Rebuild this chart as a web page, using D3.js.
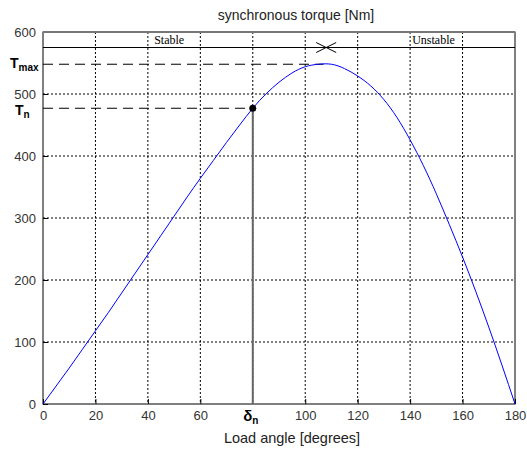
<!DOCTYPE html>
<html>
<head>
<meta charset="utf-8">
<script src="https://cdn.jsdelivr.net/npm/d3@7"></script>
<style>
  body { margin: 0; background: #fff; }
  svg { display: block; }
</style>
</head>
<body>
<svg width="527" height="451" font-family="Arial, 'Liberation Sans', sans-serif"></svg>
<script>
// load angle (degrees) and torque (Nm)
const angles = [0, 5, 10, 15, 20, 25, 30, 35, 40, 45, 50, 55, 60, 65, 70, 75, 80, 85, 90,
  95, 100, 105, 110, 115, 120, 125, 130, 135, 140, 145, 150, 155, 160, 165, 170, 175, 180];
const torque = [0, 29, 58, 88, 118, 148, 179, 210, 241, 272, 303, 334, 364, 393, 422, 450, 477, 500, 519,
  534, 544, 548, 548, 541, 529, 513, 491, 462, 426, 385, 339, 289, 237, 182, 124, 63, 0];

const xTicks = [0, 20, 40, 60, 100, 120, 140, 160, 180];
const yTicks = [0, 100, 200, 300, 400, 500, 600];
const xGrid = [20, 40, 60, 80, 100, 120, 140, 160];
const yGrid = [100, 200, 300, 400, 500];

const ratedAngle = 80, ratedTorque = 477;
const maxAngle = 107, maxTorque = 548;
const limitLine = 575;

const svg = d3.select("svg");
const margin = {top: 32, right: 12, bottom: 47, left: 43};
const width = +svg.attr("width") - margin.left - margin.right;
const height = +svg.attr("height") - margin.top - margin.bottom;

const x = d3.scaleLinear().domain([0, 180]).range([0, width]);
const y = d3.scaleLinear().domain([0, 600]).range([height, 0]);

const g = svg.append("g").attr("transform", `translate(${margin.left},${margin.top})`);

// grid
g.append("g").selectAll("line").data(xGrid).join("line")
  .attr("x1", d => x(d)).attr("x2", d => x(d))
  .attr("y1", 0).attr("y2", height)
  .attr("stroke", "#000").attr("stroke-dasharray", "2,2");
g.append("g").selectAll("line").data(yGrid).join("line")
  .attr("x1", 0).attr("x2", width)
  .attr("y1", d => y(d)).attr("y2", d => y(d))
  .attr("stroke", "#000").attr("stroke-dasharray", "2,2");

// axes
const xAxis = g.append("g").attr("transform", `translate(0,${height})`)
  .call(d3.axisBottom(x).tickValues(xTicks).tickSize(-5).tickPadding(7).tickSizeOuter(0));
const yAxis = g.append("g")
  .call(d3.axisLeft(y).tickValues(yTicks).tickSize(-5).tickPadding(7).tickSizeOuter(0));
[xAxis, yAxis].forEach(a => {
  a.select(".domain").remove();
  a.selectAll("text").attr("font-size", 13).attr("fill", "#333")
    .attr("font-family", "Arial, 'Liberation Sans', sans-serif");
});

// box
g.append("rect").attr("width", width).attr("height", height)
  .attr("fill", "none").attr("stroke", "#000");
g.append("line").attr("x1", 0).attr("x2", width).attr("y1", 0).attr("y2", 0)
  .attr("stroke", "#777").attr("stroke-width", 2);

// stable / unstable band
g.append("line").attr("x1", 0).attr("x2", width)
  .attr("y1", y(limitLine)).attr("y2", y(limitLine)).attr("stroke", "#000");
g.append("text").attr("x", x(42.4)).attr("y", y(limitLine) - 3.5)
  .attr("font-family", "'Liberation Serif', 'Times New Roman', serif")
  .attr("font-size", 12).text("Stable");
g.append("text").attr("x", x(140.8)).attr("y", y(limitLine) - 3.5)
  .attr("font-family", "'Liberation Serif', 'Times New Roman', serif")
  .attr("font-size", 12).text("Unstable");

// cross at the pull-out angle
const cx = x(maxAngle + 1), cy = y(limitLine);
g.append("path")
  .attr("d", `M${cx - 10},${cy - 5}L${cx + 10},${cy + 5}M${cx - 10},${cy + 5}L${cx + 10},${cy - 5}`)
  .attr("stroke", "#000").attr("fill", "none");

// Tmax and Tn dashed guides
g.append("line").attr("x1", 0).attr("x2", x(maxAngle))
  .attr("y1", y(maxTorque)).attr("y2", y(maxTorque))
  .attr("stroke", "#000").attr("stroke-dasharray", "10,6");
g.append("line").attr("x1", 0).attr("x2", x(ratedAngle))
  .attr("y1", y(ratedTorque)).attr("y2", y(ratedTorque))
  .attr("stroke", "#000").attr("stroke-dasharray", "10,6");

// vertical at rated angle
g.append("line").attr("x1", x(ratedAngle)).attr("x2", x(ratedAngle))
  .attr("y1", y(ratedTorque)).attr("y2", height)
  .attr("stroke", "#666").attr("stroke-width", 2);

// torque curve
const line = d3.line().x((d, i) => x(angles[i])).y(d => y(d)).curve(d3.curveNatural);
g.append("path").datum(torque).attr("d", line)
  .attr("fill", "none").attr("stroke", "#0000ff").attr("stroke-width", 1);

g.append("circle").attr("cx", x(ratedAngle)).attr("cy", y(ratedTorque)).attr("r", 3.5).attr("fill", "#000");

// labels
const tmax = svg.append("text").attr("x", 10).attr("y", margin.top + y(maxTorque) + 4)
  .attr("font-weight", "bold").attr("font-size", 14);
tmax.append("tspan").text("T");
tmax.append("tspan").attr("font-size", 10).attr("dy", 3).text("max");

const tn = svg.append("text").attr("x", 15).attr("y", margin.top + y(ratedTorque) + 7)
  .attr("font-weight", "bold").attr("font-size", 14);
tn.append("tspan").text("T");
tn.append("tspan").attr("font-size", 10).attr("dy", 3).text("n");

const dn = svg.append("text").attr("x", margin.left + x(ratedAngle) - 2).attr("y", margin.top + height + 17)
  .attr("text-anchor", "middle").attr("font-weight", "bold").attr("font-size", 15);
dn.append("tspan").text("δ");
dn.append("tspan").attr("font-size", 10).attr("dy", 3).text("n");

svg.append("text").attr("x", 296).attr("y", 20).attr("text-anchor", "middle")
  .attr("font-size", 14).attr("fill", "#222").text("synchronous torque [Nm]");
svg.append("text").attr("x", 292).attr("y", 443).attr("text-anchor", "middle")
  .attr("font-size", 14.5).attr("fill", "#222").text("Load angle [degrees]");
</script>
</body>
</html>
